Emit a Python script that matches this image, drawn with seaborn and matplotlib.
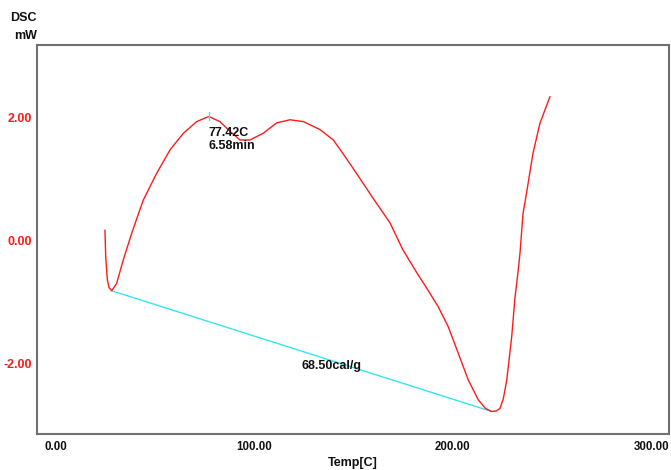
import numpy as np
import pandas as pd
import matplotlib
matplotlib.use("Agg")
import matplotlib.pyplot as plt
import seaborn as sns
from matplotlib.ticker import MultipleLocator, FixedLocator

# DSC heat-flow trace (temperature in C, heat flow in mW)
temp = [24.9, 25.3, 26.1, 27.0, 28.3, 30.8, 34.1, 38.4, 44.2, 51.0, 57.7, 64.4,
        71.1, 76.1, 77.42, 82.8, 87.9, 92.9, 97.9, 104.6, 111.4, 118.1, 124.8,
        133.2, 139.9, 145.8, 149.8, 159.9, 168.4, 174.9, 182.0, 186.0, 192.7,
        197.8, 202.8, 207.9, 212.9, 216.5, 219.6, 222.0, 223.8, 225.5, 227.2,
        229.7, 231.4, 233.0, 233.9, 235.4, 237.4, 240.4, 243.9, 249.0]
dsc = [0.17, -0.26, -0.64, -0.77, -0.82, -0.70, -0.32, 0.12, 0.66, 1.10, 1.48, 1.75,
       1.94, 2.01, 2.02, 1.94, 1.78, 1.64, 1.64, 1.75, 1.92, 1.97, 1.94,
       1.81, 1.64, 1.37, 1.18, 0.69, 0.29, -0.15, -0.53, -0.73, -1.08,
       -1.41, -1.84, -2.28, -2.60, -2.74, -2.79, -2.78, -2.74, -2.58, -2.28,
       -1.57, -0.92, -0.48, -0.20, 0.44, 0.82, 1.42, 1.91, 2.35]

# integration baseline between the two minima
baseline_temp = [28.3, 219.6]
baseline_dsc = [-0.82, -2.79]

peak_temp = 77.42
peak_time = 6.58
enthalpy = 68.50

x_ticks = [0, 100, 200, 300]
y_ticks = [-2, 0, 2]

sns.set_style("white")
plt.rcParams["font.family"] = ["Liberation Sans", "DejaVu Sans"]

fig = plt.figure(figsize=(6.71, 4.70), dpi=100)
W, H = 671, 470
ax = fig.add_axes([37 / W, (H - 434) / H, (669 - 37) / W, (434 - 45) / H])

curve = pd.DataFrame({"temp": temp, "dsc": dsc})
base = pd.DataFrame({"temp": baseline_temp, "dsc": baseline_dsc})

sns.lineplot(data=base, x="temp", y="dsc", ax=ax, color="#33e6f0", lw=1.0, sort=False)
sns.lineplot(data=curve, x="temp", y="dsc", ax=ax, color="#ff1a1a", lw=1.0, sort=False)

# peak marker
peak_y = float(np.interp(peak_temp, temp, dsc))
ax.plot([peak_temp, peak_temp], [peak_y - 0.05, peak_y + 0.07], color="#33e6f0", lw=1.0)

ax.text(peak_temp - 0.5, peak_y - 0.17, f"{peak_temp:.2f}C\n{peak_time:.2f}min",
        ha="left", va="top", fontsize=9, fontweight="bold", color="#111111",
        linespacing=1.05)
ax.text(139.2, -2.05, f"{enthalpy:.2f}cal/g", ha="center", va="center",
        fontsize=9, fontweight="bold", color="#111111")

ax.set_xlim(-9.3, 308.9)
ax.set_ylim(-3.157, 3.19)

ax.xaxis.set_major_locator(FixedLocator(x_ticks))
ax.xaxis.set_minor_locator(MultipleLocator(20))
ax.yaxis.set_major_locator(FixedLocator(y_ticks))
ax.yaxis.set_minor_locator(MultipleLocator(0.5))
ax.set_xticklabels([f"{v:.2f}" for v in x_ticks])
ax.set_yticklabels([f"{v:.2f}" for v in y_ticks])

ax.tick_params(axis="x", which="major", direction="in", length=8, width=1,
               color="#333333", labelsize=8.3, pad=5, labelcolor="#111111")
ax.tick_params(axis="x", which="minor", direction="in", length=5, width=1, color="#333333")
ax.tick_params(axis="y", which="major", direction="inout", length=5, width=1,
               color="#333333", labelsize=9, pad=1, labelcolor="#ff1a1a")
ax.tick_params(axis="y", which="minor", direction="in", length=3, width=1, color="#333333")
for lab in ax.get_xticklabels() + ax.get_yticklabels():
    lab.set_fontweight("bold")

for s in ax.spines.values():
    s.set_visible(True)
    s.set_color("#707070")
    s.set_linewidth(1.5)

ax.set_xlabel("Temp[C]", fontsize=9, fontweight="bold", color="#111111", labelpad=3)
ax.set_ylabel("")
fig.text(37 / W, 1 - 18 / H, "DSC", ha="right", va="center", fontsize=9,
         fontweight="bold", color="#111111")
fig.text(37 / W, 1 - 36 / H, "mW", ha="right", va="center", fontsize=9,
         fontweight="bold", color="#111111")

fig.savefig("out.png", dpi=100, facecolor="white")
